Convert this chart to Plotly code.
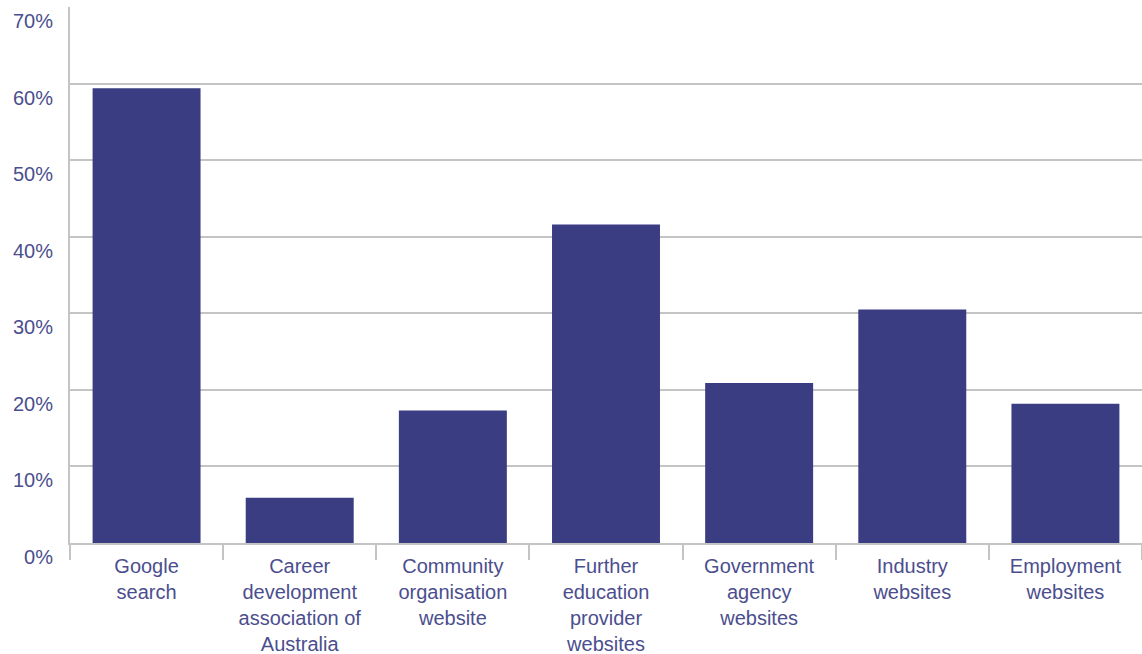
import plotly.graph_objects as go

# Share of respondents using each online source
categories = [
    "Google<br>search",
    "Career<br>development<br>association of<br>Australia",
    "Community<br>organisation<br>website",
    "Further<br>education<br>provider<br>websites",
    "Government<br>agency<br>websites",
    "Industry<br>websites",
    "Employment<br>websites",
]
shares = [59.4, 5.9, 17.3, 41.6, 20.9, 30.5, 18.2]
y_ticks = [0, 10, 20, 30, 40, 50, 60, 70]

BAR = "#3b3d82"
TEXT = "#4b4e8e"
GRID = "#c4c4c4"
FONT = "Liberation Sans, Arial, sans-serif"

fig = go.Figure(
    go.Bar(
        x=categories,
        y=shares,
        marker=dict(color=BAR, line=dict(width=0)),
        hoverinfo="skip",
    )
)

fig.update_layout(
    width=1142,
    height=654,
    margin=dict(l=70, r=0, t=7, b=111),
    paper_bgcolor="white",
    plot_bgcolor="white",
    bargap=0.295,
    showlegend=False,
    font=dict(family=FONT, size=20, color=TEXT),
)

fig.update_xaxes(
    type="category",
    automargin=False,
    showgrid=False,
    showline=True,
    linecolor=GRID,
    linewidth=2,
    ticks="outside",
    tickson="boundaries",
    ticklen=15,
    tickwidth=2,
    tickcolor=GRID,
    ticklabelstandoff=4,
    tickfont=dict(family=FONT, size=20, color=TEXT),
    tickangle=0,
)

fig.update_yaxes(
    range=[0, 70],
    automargin=False,
    tickvals=y_ticks,
    ticktext=[f"{v}%" for v in y_ticks],
    showgrid=True,
    gridcolor=GRID,
    gridwidth=2,
    showline=True,
    linecolor=GRID,
    linewidth=2,
    zeroline=False,
    ticks="",
    ticklabelposition="outside bottom",
    ticklabelstandoff=11,
    tickfont=dict(family=FONT, size=20, color=TEXT),
)

fig.write_html("out.html")
